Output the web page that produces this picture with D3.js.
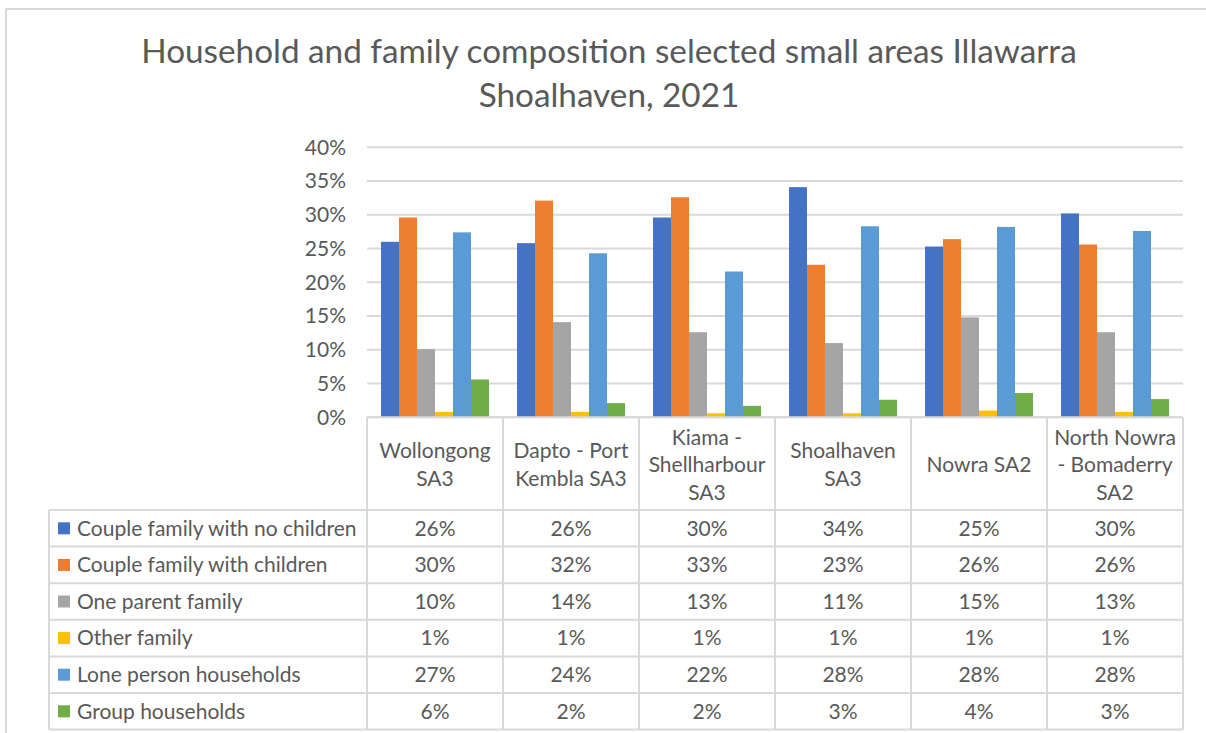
<!DOCTYPE html>
<html>
<head>
<meta charset="utf-8">
<script src="https://cdn.jsdelivr.net/npm/d3@7"></script>
<style>
  html, body { margin: 0; padding: 0; background: #fff; }
  svg { display: block; }
  text { font-family: Lato, "Open Sans", sans-serif; fill: #595959; }
</style>
</head>
<body>
<svg id="chart" width="1206" height="733"></svg>
<script>
// Household and family composition, share of households by area (2021)
const areas = ["Wollongong SA3", "Dapto - Port Kembla SA3", "Kiama - Shellharbour SA3",
               "Shoalhaven SA3", "Nowra SA2", "North Nowra - Bomaderry SA2"];
const areaLines = [["Wollongong", "SA3"], ["Dapto - Port", "Kembla SA3"],
                   ["Kiama -", "Shellharbour", "SA3"], ["Shoalhaven", "SA3"],
                   ["Nowra SA2"], ["North Nowra", "- Bomaderry", "SA2"]];
const seriesNames = ["Couple family with no children", "Couple family with children",
                     "One parent family", "Other family", "Lone person households",
                     "Group households"];
const seriesColors = ["#4472C4", "#ED7D31", "#A5A5A5", "#FFC000", "#5B9BD5", "#70AD47"];

// values in percent, one array per series, ordered as `areas`
const coupleNoChildren = [26.0, 25.8, 29.6, 34.1, 25.3, 30.2];
const coupleWithChildren = [29.6, 32.1, 32.6, 22.6, 26.4, 25.6];
const oneParent = [10.1, 14.1, 12.6, 11.0, 14.8, 12.6];
const otherFamily = [0.8, 0.8, 0.6, 0.6, 1.0, 0.8];
const lonePerson = [27.4, 24.3, 21.6, 28.3, 28.2, 27.6];
const groupHouseholds = [5.6, 2.1, 1.7, 2.6, 3.6, 2.7];
const seriesValues = [coupleNoChildren, coupleWithChildren, oneParent, otherFamily,
                      lonePerson, groupHouseholds];
const yTicks = [0, 5, 10, 15, 20, 25, 30, 35, 40];

const svg = d3.select("#chart");
const pct = v => Math.round(v) + "%";
const bodySize = 21;

// outer chart frame
svg.append("rect")
  .attr("x", 6).attr("y", 9).attr("width", 1300).attr("height", 800)
  .attr("fill", "none").attr("stroke", "#d9d9d9").attr("stroke-width", 2);

// title
const title = svg.append("text")
  .attr("text-anchor", "middle")
  .attr("font-size", 33.3);
title.append("tspan").attr("x", 609).attr("y", 63)
  .text("Household and family composition selected small areas Illawarra");
title.append("tspan").attr("x", 609).attr("y", 107).text("Shoalhaven, 2021");

// scales
const plotLeft = 367, plotRight = 1183, plotTop = 147.3, plotBottom = 417.3;
const x0 = d3.scaleBand().domain(areas).range([plotLeft, plotRight]);
const x1 = d3.scaleBand().domain(seriesNames)
  .range([14, x0.bandwidth() - 14]);
const y = d3.scaleLinear().domain([0, 40]).range([plotBottom, plotTop]);

// gridlines
svg.append("g")
  .selectAll("line")
  .data(yTicks)
  .join("line")
  .attr("x1", plotLeft).attr("x2", plotRight)
  .attr("y1", d => y(d)).attr("y2", d => y(d))
  .attr("stroke", "#d9d9d9").attr("stroke-width", 2);

// y axis labels
const yAxis = svg.append("g")
  .attr("transform", `translate(${plotLeft - 21},0)`)
  .call(d3.axisLeft(y).tickValues(yTicks).tickFormat(d => d + "%").tickSize(0).tickPadding(0));
yAxis.select(".domain").remove();
yAxis.selectAll("text")
  .attr("font-size", bodySize)
  .attr("font-family", "Lato, sans-serif")
  .attr("fill", "#595959");

// bars
const groups = svg.append("g")
  .selectAll("g")
  .data(areas)
  .join("g")
  .attr("transform", d => `translate(${x0(d)},0)`);
groups.selectAll("rect")
  .data((a, i) => seriesNames.map((s, k) => ({ s, k, v: seriesValues[k][i] })))
  .join("rect")
  .attr("x", d => x1(d.s))
  .attr("width", x1.bandwidth())
  .attr("y", d => y(d.v))
  .attr("height", d => y(0) - y(d.v))
  .attr("fill", d => seriesColors[d.k]);

// data table
const headerTop = plotBottom, headerBottom = 510, rowH = 36.6, tableLeft = 49;
const rowY = d3.scaleBand().domain(seriesNames)
  .range([headerBottom, headerBottom + rowH * seriesNames.length]);
const grid = svg.append("g").attr("stroke", "#d9d9d9").attr("stroke-width", 2);
const tableBottom = rowY.range()[1];

// horizontal lines
grid.append("line").attr("x1", plotLeft).attr("x2", plotRight)
  .attr("y1", headerTop).attr("y2", headerTop);
seriesNames.forEach(s => {
  grid.append("line").attr("x1", tableLeft).attr("x2", plotRight)
    .attr("y1", rowY(s)).attr("y2", rowY(s));
});
grid.append("line").attr("x1", tableLeft).attr("x2", plotRight)
  .attr("y1", tableBottom).attr("y2", tableBottom);
// vertical lines
grid.append("line").attr("x1", tableLeft).attr("x2", tableLeft)
  .attr("y1", headerBottom).attr("y2", tableBottom);
areas.forEach(a => {
  grid.append("line").attr("x1", x0(a)).attr("x2", x0(a))
    .attr("y1", headerTop).attr("y2", tableBottom);
});
grid.append("line").attr("x1", plotRight).attr("x2", plotRight)
  .attr("y1", headerTop).attr("y2", tableBottom);

// header labels
const headerMid = (headerTop + headerBottom) / 2 + 1;
const lineGap = 27.5;
svg.append("g")
  .selectAll("text")
  .data(areas)
  .join("text")
  .attr("text-anchor", "middle")
  .attr("font-size", bodySize)
  .each(function (a, i) {
    const lines = areaLines[i];
    const cx = x0(a) + x0.bandwidth() / 2;
    const first = headerMid - (lines.length - 1) * lineGap / 2;
    d3.select(this).selectAll("tspan")
      .data(lines)
      .join("tspan")
      .attr("x", cx)
      .attr("y", (l, j) => first + j * lineGap)
      .attr("dy", "0.35em")
      .text(l => l);
  });

// legend column
const legend = svg.append("g")
  .selectAll("g")
  .data(seriesNames)
  .join("g")
  .attr("transform", d => `translate(0,${rowY(d) + rowY.bandwidth() / 2})`);
legend.append("rect")
  .attr("x", 58).attr("y", -6).attr("width", 12).attr("height", 12)
  .attr("fill", (d, k) => seriesColors[k]);
legend.append("text")
  .attr("x", 77).attr("dy", "0.35em")
  .attr("font-size", bodySize)
  .text(d => d);

// value cells
seriesNames.forEach((s, k) => {
  svg.append("g")
    .selectAll("text")
    .data(areas)
    .join("text")
    .attr("x", a => x0(a) + x0.bandwidth() / 2)
    .attr("y", rowY(s) + rowY.bandwidth() / 2)
    .attr("dy", "0.35em")
    .attr("text-anchor", "middle")
    .attr("font-size", bodySize)
    .text((a, i) => pct(seriesValues[k][i]));
});
</script>
</body>
</html>
